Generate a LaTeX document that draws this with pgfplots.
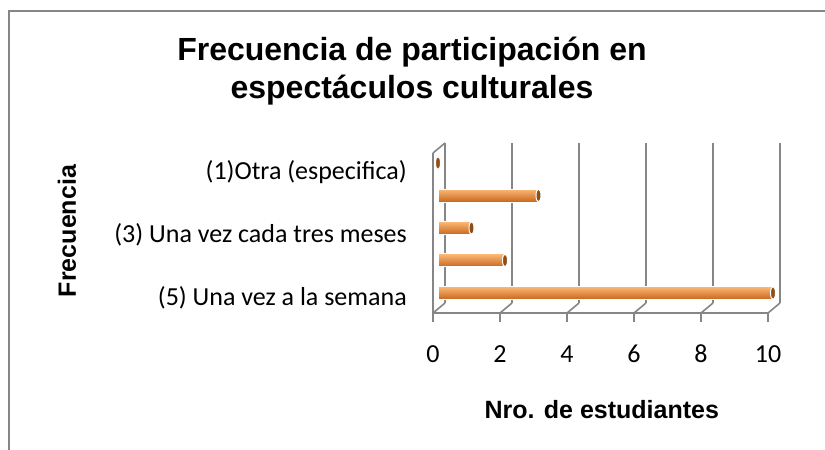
\documentclass[border=0pt]{standalone}
\usepackage{fontspec}
\setmainfont{Carlito}
\newfontfamily\arial{Liberation Sans}
\usepackage{pgfplots}
\pgfplotsset{compat=1.18}
\definecolor{axgray}{HTML}{868686}
\definecolor{barlight}{HTML}{FCB978}
\definecolor{barmid}{HTML}{F79646}
\definecolor{bardark}{HTML}{C8661C}
\definecolor{capc}{HTML}{8E4E16}
\begin{document}
\begin{tikzpicture}[x=1pt,y=1pt]
\useasboundingbox (0,0) rectangle (825,450);
\draw[axgray, line width=2pt] (9,0) -- (9,439) -- (825,439);
% back plane (gridlines)
\begin{axis}[at={(445pt,147pt)}, anchor=south west, scale only axis,
  width=335pt, height=160pt, xmin=0, xmax=10, ymin=0, ymax=1,
  axis line style={draw=none}, tick style={draw=none},
  xtick={0,2,4,6,8,10}, xticklabels={}, ytick=\empty,
  xmajorgrids, grid style={axgray, line width=1.6pt}]
\addplot[draw=none] coordinates {(0,0)};
\end{axis}
% depth connectors
\foreach \k in {0,...,5} {
  \draw[axgray, line width=1.6pt] (433+67*\k, 137) -- ++(12,10);
}
\draw[axgray, line width=1.6pt] (433,297) -- (445,307);
% front axis
\begin{axis}[at={(433pt,137pt)}, anchor=south west, scale only axis,
  width=335pt, height=160pt, xmin=0, xmax=10, ymin=0.524, ymax=5.6,
  axis x line*=bottom, axis y line*=left,
  axis line style={axgray, line width=1.6pt, -},
  xtick={0,2,4,6,8,10}, ytick={1,3,5},
  yticklabels={(5) Una vez a la semana, (3) Una vez cada tres meses, (1)Otra (especifica)},
  tick align=outside, major tick length=9pt,
  x tick style={axgray, line width=1.6pt}, y tick style={draw=none},
  /pgf/number format/assume math mode=true,
  ticklabel style={font=\fontsize{26}{31}\selectfont},
  xticklabel style={anchor=center, inner sep=0pt, yshift=-32pt},
  yticklabel style={anchor=east, inner sep=0pt, xshift=-17pt},
  title={Frecuencia de participación en\\espectáculos culturales},
  title style={at={(axis description cs:-0.0627,1.475)}, anchor=center, align=center,
    font=\arial\bfseries\fontsize{32}{38}\selectfont},
  xlabel={Nro. de estudiantes},
  xlabel style={at={(axis description cs:0.504,-0.606)}, anchor=center,
    font=\arial\bfseries\fontsize{25}{30}\selectfont},
  ylabel={Frecuencia},
  ylabel style={at={(axis description cs:-1.0925,0.5125)}, anchor=center,
    font=\arial\bfseries\fontsize{25}{30}\selectfont}]
\addplot[draw=none] coordinates {(0,1)};
\end{axis}
% bars
\begin{axis}[at={(438pt,142pt)}, anchor=south west, scale only axis,
  width=335pt, height=160pt, xmin=0, xmax=10, ymin=0.538, ymax=5.462,
  hide axis, clip=false]
\pgfplotsset{mybar/.style={xbar, bar width=13pt, bar shift=0pt, draw=white, line width=1pt,
  top color=barlight, middle color=barmid, bottom color=bardark}}
\addplot[mybar] coordinates {(10,1)};
\addplot[mybar] coordinates {(2,2)};
\addplot[mybar] coordinates {(1,3)};
\addplot[mybar] coordinates {(3,4)};
\addplot[mybar] coordinates {(0,5)};
\addplot[only marks, mark=*, mark size=6.5pt,
  mark options={xscale=0.38, fill=capc, draw=white, line width=1pt}]
  coordinates {(10,1) (2,2) (1,3) (3,4) (0,5)};
\end{axis}
\end{tikzpicture}
\end{document}
